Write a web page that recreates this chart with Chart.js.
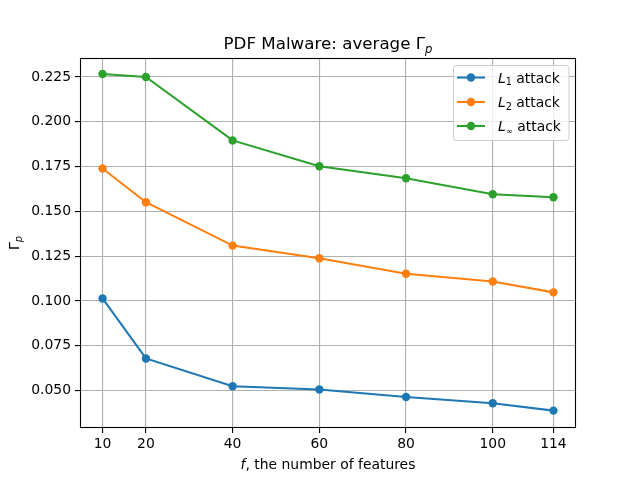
<!DOCTYPE html>
<html>
<head>
<meta charset="utf-8">
<script src="https://cdn.jsdelivr.net/npm/chart.js@4"></script>
<style>
html,body{margin:0;padding:0;background:#fff;}
canvas{display:block;}
</style>
</head>
<body>
<canvas id="c" width="640" height="480"></canvas>
<script>
const features = [10, 20, 40, 60, 80, 100, 114];
const l1Attack = [0.1014, 0.0679, 0.0524, 0.0506, 0.0464, 0.0429, 0.0388];
const l2Attack = [0.1739, 0.1551, 0.1309, 0.1238, 0.1152, 0.1109, 0.1048];
const linfAttack = [0.2267, 0.2250, 0.1896, 0.1752, 0.1685, 0.1596, 0.1579];
const xTicks = [10, 20, 40, 60, 80, 100, 114];
const yTicks = [0.050, 0.075, 0.100, 0.125, 0.150, 0.175, 0.200, 0.225];
const seriesNames = ['1', '2', '\u221E'];
const colors = ['#1f77b4', '#ff7f0e', '#2ca02c'];

const FONT = '"DejaVu Sans", sans-serif';

function pts(vals){ return features.map((x,i)=>({x:x, y:vals[i]})); }

function drawRich(ctx, segs, x, y, align){
  // segs: [{t, size, italic, dy}]
  let w = 0;
  segs.forEach(s=>{ ctx.font = (s.italic?'italic ':'') + s.size + 'px ' + FONT; s.w = ctx.measureText(s.t).width; w += s.w; });
  let cx = x;
  if (align === 'center') cx = x - w/2;
  else if (align === 'right') cx = x - w;
  ctx.textAlign = 'left';
  segs.forEach(s=>{
    ctx.font = (s.italic?'italic ':'') + s.size + 'px ' + FONT;
    ctx.fillText(s.t, cx, y + (s.dy||0));
    cx += s.w;
  });
  return w;
}

const decor = {
  id: 'decor',
  afterDatasetsDraw(chart){
    const ctx = chart.ctx;
    const a = chart.chartArea;
    ctx.save();
    // spines
    ctx.strokeStyle = '#000';
    ctx.lineWidth = 1.1;
    ctx.strokeRect(Math.round(a.left)+0.5, Math.round(a.top)+0.5, Math.round(a.right-a.left)-1, Math.round(a.bottom-a.top)-1);
    ctx.fillStyle = '#000';
    ctx.textBaseline = 'alphabetic';
    // title
    const cx = (a.left + a.right)/2;
    drawRich(ctx, [
      {t:'PDF Malware: average \u0393', size:16.7},
      {t:'p', size:11.7, italic:true, dy:3.5}
    ], cx, 49, 'center');
    // x label
    drawRich(ctx, [
      {t:'f', size:13.9, italic:true},
      {t:', the number of features', size:13.9}
    ], cx, 469, 'center');
    // y label
    ctx.save();
    ctx.translate(19, (a.top + a.bottom)/2);
    ctx.rotate(-Math.PI/2);
    drawRich(ctx, [
      {t:'\u0393', size:13.9},
      {t:'p', size:9.7, italic:true, dy:3}
    ], 0, 0, 'center');
    ctx.restore();
    // legend
    const lx = 453.5, ly = 65.5, lw = 115.5, lh = 75;
    ctx.beginPath();
    if (ctx.roundRect) ctx.roundRect(lx, ly, lw, lh, 3); else ctx.rect(lx, ly, lw, lh);
    ctx.fillStyle = 'rgba(255,255,255,0.8)';
    ctx.fill();
    ctx.strokeStyle = '#cccccc';
    ctx.lineWidth = 1;
    ctx.stroke();
    const rows = [77.5, 102, 126];
    seriesNames.forEach((nm, i)=>{
      const y = rows[i];
      ctx.strokeStyle = colors[i];
      ctx.lineWidth = 2.08;
      ctx.beginPath();
      ctx.moveTo(457, y); ctx.lineTo(485, y); ctx.stroke();
      ctx.fillStyle = colors[i];
      ctx.beginPath();
      ctx.arc(471, y, 4.2, 0, Math.PI*2); ctx.fill();
      ctx.fillStyle = '#000';
      const subSize = nm === '\u221E' ? 8.5 : 9.7;
      drawRich(ctx, [
        {t:'L', size:13.9, italic:true},
        {t:nm, size:subSize, dy:2.5},
        {t:' attack', size:13.9}
      ], 498, y + 5, 'left');
    });
    ctx.restore();
  }
};

new Chart(document.getElementById('c'), {
  type: 'line',
  data: {
    datasets: [
      {label:'L1 attack', data: pts(l1Attack), borderColor: colors[0], backgroundColor: colors[0]},
      {label:'L2 attack', data: pts(l2Attack), borderColor: colors[1], backgroundColor: colors[1]},
      {label:'Linf attack', data: pts(linfAttack), borderColor: colors[2], backgroundColor: colors[2]}
    ].map(d=>Object.assign(d, {borderWidth:2.08, pointRadius:4.2, pointBorderWidth:0, pointHoverRadius:4.2, tension:0, fill:false}))
  },
  options: {
    responsive: false,
    animation: false,
    devicePixelRatio: 1,
    layout: {padding: {top: 58, right: 64, left: 0, bottom: 0}},
    plugins: {legend: {display:false}, title: {display:false}, tooltip: {enabled:false}},
    scales: {
      x: {
        type: 'linear',
        min: 4.8, max: 119.2,
        afterBuildTicks: s => { s.ticks = xTicks.map(v=>({value:v})); },
        afterFit: s => { s.height = 52; },
        grid: {color:'#b0b0b0', lineWidth:1.1, tickColor:'#000', tickLength:5, drawTicks:true},
        border: {display:false},
        ticks: {color:'#000', font:{family:FONT, size:13.9}, padding:3, maxRotation:0, autoSkip:false, callback: v => String(v)}
      },
      y: {
        type: 'linear',
        min: 0.0291, max: 0.2356,
        afterBuildTicks: s => { s.ticks = yTicks.map(v=>({value:v})); },
        afterFit: s => { s.width = 80; },
        grid: {color:'#b0b0b0', lineWidth:1.1, tickColor:'#000', tickLength:5, drawTicks:true},
        border: {display:false},
        ticks: {color:'#000', font:{family:FONT, size:13.9}, padding:4, autoSkip:false, callback: v => v.toFixed(3)}
      }
    }
  },
  plugins: [decor]
});
</script>
</body>
</html>
